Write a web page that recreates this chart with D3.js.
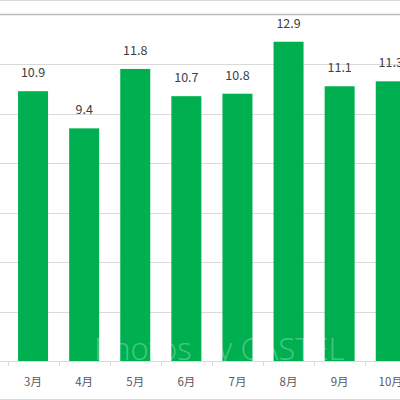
<!DOCTYPE html>
<html>
<head>
<meta charset="utf-8">
<script src="https://cdn.jsdelivr.net/npm/d3@7"></script>
<style>
  html, body { margin: 0; padding: 0; background: #fff; }
  svg { display: block; }
</style>
</head>
<body>
<svg id="chart" width="400" height="400"></svg>
<script>
// data
const months = ["3月", "4月", "5月", "6月", "7月", "8月", "9月", "10月"]
const values = [10.9, 9.4, 11.8, 10.7, 10.8, 12.9, 11.1, 11.3]
const gridTicks = [0, 2, 4, 6, 8, 10, 12]

const width = 400, height = 400
const step = 51.1

const svg = d3.select("#chart")

const x = d3.scaleBand()
    .domain(months)
    .range([7.5, 7.5 + step * months.length])
    .paddingInner(0.413)
    .paddingOuter(0.2065)

const y = d3.scaleLinear()
    .domain([0, 14])
    .range([361, 14.5])

// outer frame lines
svg.append("line")
    .attr("x1", 0).attr("x2", width)
    .attr("y1", 0.5).attr("y2", 0.5)
    .attr("stroke", "#d9d9d9")
svg.append("line")
    .attr("x1", 0).attr("x2", width)
    .attr("y1", 399.5).attr("y2", 399.5)
    .attr("stroke", "#d9d9d9")

// gridlines
svg.append("g")
    .selectAll("line")
    .data(gridTicks.slice(1))
    .join("line")
    .attr("x1", 0).attr("x2", width)
    .attr("y1", d => Math.round(y(d)) + 0.5)
    .attr("y2", d => Math.round(y(d)) + 0.5)
    .attr("stroke", "#d9d9d9")

svg.append("line")
    .attr("x1", 0).attr("x2", width)
    .attr("y1", y(14)).attr("y2", y(14))
    .attr("stroke", "#bdbdbd")
    .attr("stroke-width", 1.5)

// bars
svg.append("g")
    .selectAll("rect")
    .data(values)
    .join("rect")
    .attr("x", (d, i) => x(months[i]))
    .attr("y", d => y(d))
    .attr("width", x.bandwidth())
    .attr("height", d => y(0) - y(d))
    .attr("fill", "#00b050")

// watermark
svg.append("text")
    .attr("x", 94)
    .attr("y", 360)
    .attr("font-family", "'Open Sans', sans-serif")
    .attr("font-weight", 300)
    .attr("font-size", 31)
    .attr("fill", "#fff")
    .attr("fill-opacity", 0.3)
    .text("Photos by CASTEL")

// x axis
const xAxis = svg.append("g")
    .attr("transform", `translate(0,${Math.round(y(0)) + 0.5})`)

xAxis.append("line")
    .attr("x1", 0).attr("x2", width)
    .attr("stroke", "#d9d9d9")

xAxis.selectAll(".tick")
    .data(d3.range(months.length + 1))
    .join("line")
    .attr("x1", i => Math.round(7.5 + step * i) + 0.5)
    .attr("x2", i => Math.round(7.5 + step * i) + 0.5)
    .attr("y1", 0).attr("y2", 4)
    .attr("stroke", "#d9d9d9")

xAxis.selectAll("text")
    .data(months)
    .join("text")
    .attr("x", d => x(d) + x.bandwidth() / 2)
    .attr("y", 24)
    .attr("text-anchor", "middle")
    .attr("font-family", "'Noto Sans CJK JP', sans-serif")
    .attr("font-size", 11.5)
    .attr("fill", "#595959")
    .text(d => d)

// value labels
svg.append("g")
    .selectAll("text")
    .data(values)
    .join("text")
    .attr("x", (d, i) => x(months[i]) + x.bandwidth() / 2)
    .attr("y", d => y(d) - 14)
    .attr("text-anchor", "middle")
    .attr("font-family", "'Noto Sans CJK JP', sans-serif")
    .attr("font-size", 12.5)
    .attr("fill", "#404040")
    .text(d => d.toFixed(1))
</script>
</body>
</html>
